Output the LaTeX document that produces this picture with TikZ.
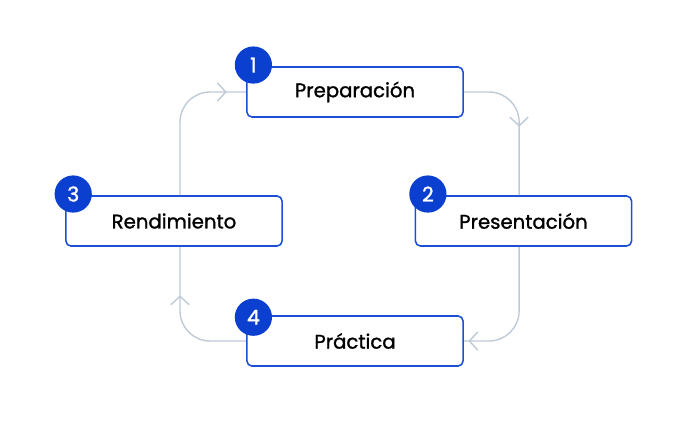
\documentclass[tikz,border=0pt]{standalone}
\usepackage{fontspec}
\setmainfont{Poppins}
\newfontfamily\stagefont{Poppins}[FakeBold=1.3]
\usetikzlibrary{arrows.meta,decorations.markings}
\definecolor{boxblue}{HTML}{1A4FD6}
\definecolor{badgeblue}{HTML}{0A3FD0}
\definecolor{linegray}{HTML}{BFCAD7}

\begin{document}
\begin{tikzpicture}[x=0.025cm,y=-0.025cm,
    stage/.style={draw=boxblue, line width=1.1pt, fill=white, rounded corners=3.5pt,
        minimum width=5.4cm, minimum height=1.25cm, inner sep=0pt,
        font=\stagefont\fontsize{14}{16}\selectfont},
    badge/.style={circle, fill=badgeblue, text=white, minimum size=0.93cm, inner sep=0pt,
        font=\stagefont\fontsize{14.5}{16}\selectfont},
    cycle/.style={draw=linegray, line width=1pt, rounded corners=0.75cm},
    chevron/.style={decoration={markings, mark=at position #1 with
        {\arrow{Straight Barb[length=6pt,width=13pt,line width=1pt]}}}, postaction=decorate},
]
    \useasboundingbox (0,0) rectangle (700,434);

    % Stages of the cycle
    \node[stage] (prep) at (355,92) {\raisebox{-1.5pt}{Preparación}};
    \node[stage] (pres) at (523.5,221) {\raisebox{-1.5pt}{Presentación}};
    \node[stage] (rend) at (174,221) {\raisebox{-1.5pt}{Rendimiento}};
    \node[stage] (prac) at (355,341) {\raisebox{-1.5pt}{Práctica}};

    % Number badges
    \node[badge] (b1) at ([xshift=0.18cm,yshift=0.03cm]prep.north west) {1};
    \node[badge] (b2) at ([xshift=0.33cm,yshift=0.03cm]pres.north west) {2};
    \node[badge] (b3) at ([xshift=0.2cm,yshift=0.03cm]rend.north west) {3};
    \node[badge] (b4) at ([xshift=0.18cm,yshift=-0.05cm]prac.north west) {4};

    % Connectors
    \draw[cycle, chevron=54.8pt] (prep.east) -| ([xshift=-0.11cm]pres.north);
    \draw[cycle, chevron=93.9pt] ([xshift=-0.11cm]pres.south) |- (prac.east);
    \draw[cycle, chevron=70.4pt] (prac.west) -| ([xshift=0.15cm]rend.south);
    \draw[cycle, chevron=97.5pt] ([xshift=0.15cm]rend.north) |- (prep.west);
\end{tikzpicture}
\end{document}
